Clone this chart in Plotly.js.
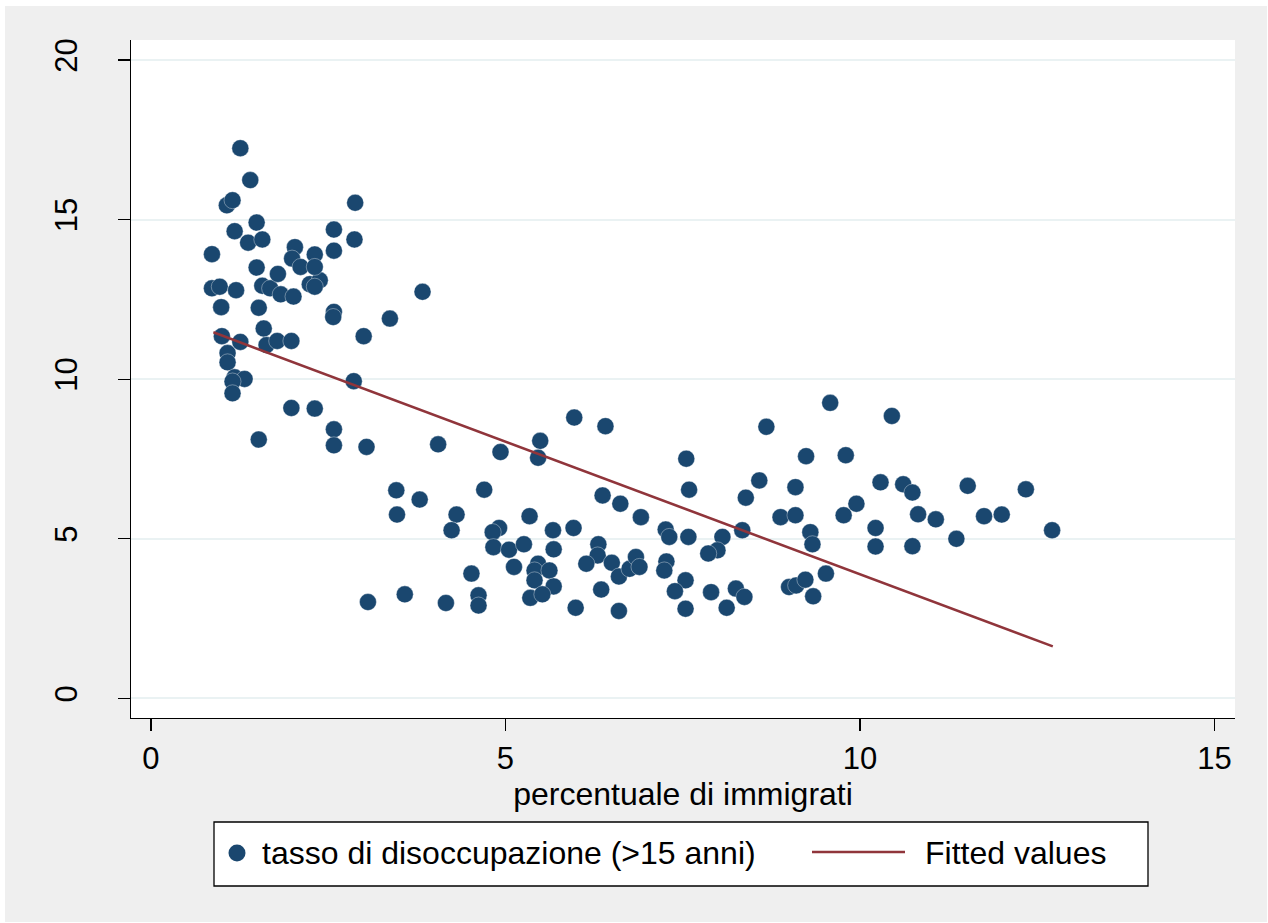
<!DOCTYPE html>
<html>
<head>
<meta charset="utf-8">
<script src="https://cdn.plot.ly/plotly-3.0.1.min.js"></script>
<style>
html,body{margin:0;padding:0;background:#ffffff;}
#chart{position:absolute;left:5px;top:6px;width:1262px;height:916px;}
</style>
</head>
<body>
<div id="chart"></div>
<script>
// percentuale di immigrati (x) and tasso di disoccupazione (>15 anni) (y)
const immigrati = [
  0.86,0.86,0.97,0.99,1.00,1.07,1.15,1.18,1.20,1.08,1.08,1.18,1.32,1.15,1.15,1.26,1.26,1.40,1.49,1.37,
  1.57,1.49,1.52,1.52,1.57,1.68,1.59,1.63,1.78,1.79,1.83,1.98,1.98,2.03,1.99,2.01,2.11,2.24,2.38,2.31,
  2.31,2.31,2.31,2.58,2.58,2.87,2.88,2.58,2.57,2.58,2.58,2.86,3.00,3.04,3.37,3.83,4.05,
  4.93,5.49,5.46,5.97,6.41,3.46,3.79,3.47,4.70,4.31,4.24,5.34,4.91,4.82,4.83,5.05,5.26,5.67,5.68,5.96,
  5.12,5.46,5.41,5.62,5.41,5.68,4.52,6.31,6.30,6.14,6.50,6.60,6.75,6.84,6.89,6.35,6.60,5.99,5.35,5.52,
  4.62,4.62,4.16,3.58,3.06,
  8.68,9.58,7.55,7.59,6.37,6.62,6.91,8.58,8.39,9.24,9.80,9.09,8.88,9.09,9.77,9.95,8.34,9.30,9.33,7.26,
  7.31,7.58,8.06,7.99,7.86,7.27,7.24,7.54,7.39,7.90,8.25,8.37,9.52,9.00,9.10,9.23,9.34,7.54,8.12,
  10.45,10.29,10.61,10.74,11.52,12.34,10.82,11.07,11.75,12.00,12.71,10.22,10.22,10.74,11.36
];
const disoccupazione = [
  13.92,12.85,12.90,12.26,11.35,15.45,15.61,14.64,12.79,10.82,10.53,10.06,10.01,9.93,9.56,17.24,11.17,16.24,14.91,14.28,
  14.38,13.50,12.24,8.11,12.93,12.85,11.59,11.07,11.20,13.30,12.66,11.20,9.10,14.14,13.78,12.59,13.52,12.98,13.10,12.90,
  13.91,13.52,9.08,14.69,14.03,14.38,15.53,12.11,11.95,8.43,7.93,9.94,11.35,7.88,11.90,12.74,7.96,
  7.72,8.07,7.54,8.80,8.53,6.52,6.23,5.76,6.54,5.76,5.27,5.71,5.34,5.21,4.74,4.66,4.83,5.27,4.67,5.34,
  4.12,4.22,4.01,4.01,3.70,3.51,3.91,4.83,4.48,4.22,4.25,3.82,4.06,4.43,4.12,3.41,2.74,2.84,3.15,3.26,
  3.23,2.91,2.99,3.26,3.02,
  8.51,9.26,7.51,6.54,6.36,6.10,5.68,6.83,6.29,7.59,7.62,6.62,5.68,5.74,5.74,6.10,5.27,5.21,4.83,5.29,
  5.06,5.06,5.06,4.64,4.54,4.29,4.01,3.70,3.36,3.33,3.44,3.18,3.91,3.49,3.54,3.72,3.20,2.81,2.84,
  8.85,6.77,6.71,6.45,6.66,6.55,5.77,5.61,5.71,5.76,5.27,5.34,4.76,4.77,5.00
];
// Fitted values
const fitX = [0.88, 12.72];
const fitY = [11.47, 1.63];

const xTicks = [0, 5, 10, 15];
const yTicks = [0, 5, 10, 15, 20];

const scatterName = 'tasso di disoccupazione (>15 anni)';
const fitName = 'Fitted values';
const navy = '#1a476f';
const maroon = '#90353b';
const FONT = '"Liberation Sans", Arial, sans-serif';

const traces = [
  {type:'scatter', mode:'markers', x:immigrati, y:disoccupazione, name:scatterName,
   marker:{color:navy, size:17, line:{color:'rgba(255,255,255,0.6)', width:0.6}}, showlegend:false,
   cliponaxis:false},
  {type:'scatter', mode:'lines', x:fitX, y:fitY, name:fitName,
   line:{color:maroon, width:2.6}, showlegend:false}
];

const W = 1104, H = 678; // plot area pixel size
const px = v => v / W, py = v => v / H;

const layout = {
  width:1262, height:916,
  paper_bgcolor:'#efefef', plot_bgcolor:'#ffffff',
  margin:{l:126, r:32, t:34, b:204, pad:0},
  font:{family:FONT, size:31, color:'#000'},
  showlegend:false,
  xaxis:{range:[-0.282, 15.29], tickvals:xTicks, ticktext:xTicks.map(String),
    showgrid:false, zeroline:false, showline:true, linecolor:'#000', linewidth:1.3,
    ticks:'outside', ticklen:12, tickwidth:1.3, tickcolor:'#000',
    ticklabelstandoff:0,
    tickfont:{family:FONT, size:31},
    title:{text:'percentuale di immigrati', font:{family:FONT, size:32}, standoff:0}},
  yaxis:{range:[-0.614, 20.63], tickvals:yTicks, ticktext:yTicks.map(String),
    showgrid:true, gridcolor:'#eaf2f3', gridwidth:2, zeroline:false,
    showline:true, linecolor:'#000', linewidth:1.3,
    ticks:'outside', ticklen:12, tickwidth:1.3, tickcolor:'#000',
    tickangle:-90, ticklabelstandoff:28,
    tickfont:{family:FONT, size:31}},
  shapes:[
    // legend box
    {type:'rect', xref:'paper', yref:'paper', x0:px(214-131), x1:px(1148-131), y0:py(718-822), y1:py(718-886),
     line:{color:'#000', width:1.3}, fillcolor:'#ffffff', layer:'above'},
    // legend marker
    {type:'circle', xref:'paper', yref:'paper', xsizemode:'pixel', ysizemode:'pixel',
     xanchor:px(237-131), yanchor:py(718-853), x0:-8.5, x1:8.5, y0:-8.5, y1:8.5,
     fillcolor:navy, line:{width:0}, layer:'above'},
    // legend line
    {type:'line', xref:'paper', yref:'paper', x0:px(812-131), x1:px(905-131), y0:py(718-852), y1:py(718-852),
     line:{color:maroon, width:2.6}, layer:'above'}
  ],
  annotations:[
    {xref:'paper', yref:'paper', x:px(260-131), y:py(718-853), xanchor:'left', yanchor:'middle',
     text:scatterName, showarrow:false, font:{family:FONT, size:32, color:'#000'}},
    {xref:'paper', yref:'paper', x:px(923-131), y:py(718-853), xanchor:'left', yanchor:'middle',
     text:fitName, showarrow:false, font:{family:FONT, size:32, color:'#000'}}
  ]
};

Plotly.newPlot('chart', traces, layout, {displayModeBar:false, staticPlot:true});
</script>
</body>
</html>
